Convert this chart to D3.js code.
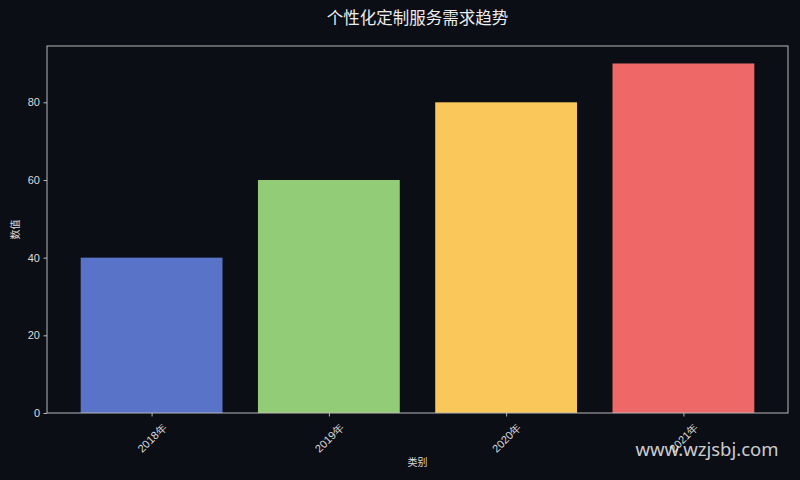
<!DOCTYPE html>
<html><head><meta charset="utf-8">
<script src="https://cdn.jsdelivr.net/npm/d3@7"></script>
<style>
html,body{margin:0;padding:0;background:#0c0e15;}
svg{display:block;font-family:"DejaVu Sans","Noto Sans CJK SC",sans-serif;}
</style></head>
<body>
<script>
const categories = ["2018年","2019年","2020年","2021年"];
const values = [40, 60, 80, 90];
const colors = ["#5873c8","#93cc77","#fac85a","#ef6868"];
const yTicks = [0, 20, 40, 60, 80];
const title = "个性化定制服务需求趋势";
const xLabel = "类别";
const yLabel = "数值";
const watermark = "www.wzjsbj.com";

const W = 800, H = 480;
const m = {l: 47, r: 12, t: 46, b: 67};
const svg = d3.select("body").append("svg").attr("width", W).attr("height", H);
svg.append("rect").attr("width", W).attr("height", H).attr("fill", "#0c0e15");

const n = categories.length;
const x = d3.scaleLinear().domain([-0.59, n - 1 + 0.59]).range([m.l, W - m.r]);
const y = d3.scaleLinear().domain([0, d3.max(values) * 1.05]).range([H - m.b, m.t]);
const bw = x(0.8) - x(0);

svg.append("g").selectAll("rect").data(values).join("rect")
  .attr("x", (d, i) => x(i) - bw / 2)
  .attr("y", d => y(d))
  .attr("width", bw)
  .attr("height", d => y(0) - y(d))
  .attr("fill", (d, i) => colors[i]);

// frame
svg.append("rect").attr("x", m.l).attr("y", m.t)
  .attr("width", W - m.r - m.l).attr("height", H - m.b - m.t)
  .attr("fill", "none").attr("stroke", "#b8b8b8").attr("stroke-width", 1);

const yAxis = svg.append("g").attr("transform", `translate(${m.l},0)`)
  .call(d3.axisLeft(y).tickValues(yTicks).tickSize(3.5).tickPadding(3.5));
const xAxis = svg.append("g").attr("transform", `translate(0,${H - m.b})`)
  .call(d3.axisBottom(x).tickValues(d3.range(n)).tickSize(3.5).tickFormat(i => categories[i]));
[yAxis, xAxis].forEach(g => {
  g.select(".domain").remove();
  g.selectAll("line").attr("stroke", "#b8b8b8");
  g.selectAll("text").attr("fill", "#dcdcdc").style("font-size", "11px");
});
xAxis.selectAll("text")
  .attr("y", 0).attr("dy", "0.35em")
  .attr("text-anchor", "middle")
  .attr("transform", "translate(0,25) rotate(-45)");

svg.append("text").attr("x", (m.l + W - m.r) / 2).attr("y", 24)
  .attr("text-anchor", "middle").attr("fill", "#ececec")
  .style("font-size", "16.5px").text(title);
svg.append("text").attr("x", (m.l + W - m.r) / 2).attr("y", 466)
  .attr("text-anchor", "middle").attr("fill", "#dcdcdc")
  .style("font-size", "10px").text(xLabel);
svg.append("text").attr("transform", `translate(19,${(m.t + H - m.b) / 2}) rotate(-90)`)
  .attr("text-anchor", "middle").attr("fill", "#dcdcdc")
  .style("font-size", "10px").text(yLabel);
svg.append("text").attr("x", 707).attr("y", 456)
  .attr("text-anchor", "middle").attr("fill", "#ffffff").attr("fill-opacity", 0.8)
  .style("font-size", "18.5px").style("font-family", "'Noto Sans','DejaVu Sans',sans-serif")
  .text(watermark);
</script>
</body></html>
